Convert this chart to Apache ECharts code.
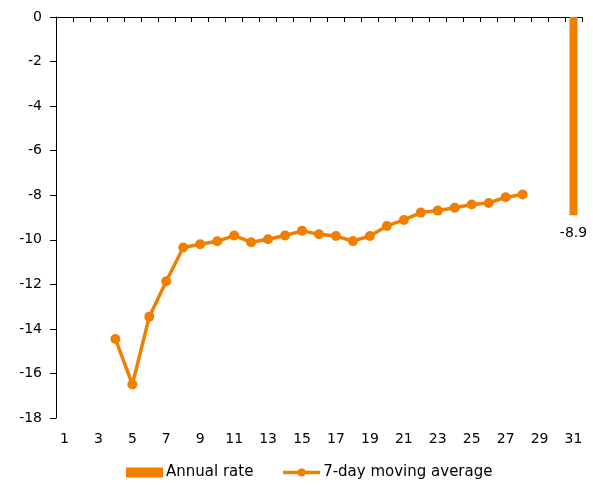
<!DOCTYPE html>
<html>
<head>
<meta charset="utf-8">
<script src="https://cdn.jsdelivr.net/npm/echarts@6/dist/echarts.min.js"></script>
<style>
  html, body { margin: 0; padding: 0; background: #fff; }
  #chart { width: 593px; height: 485px; }
</style>
</head>
<body>
<div id="chart"></div>
<script>
// Days of the month
const days = [];
for (let d = 1; d <= 31; d++) days.push(String(d));

// Annual rate: a single bar on the last day
const annualRate = [null, null, null, null, null, null, null, null, null, null,
  null, null, null, null, null, null, null, null, null, null,
  null, null, null, null, null, null, null, null, null, null, -8.9];

// 7-day moving average, days 4 to 28
const movingAverage = [null, null, null, -14.45, -16.49, -13.45, -11.86, -10.35, -10.2, -10.07,
  -9.81, -10.11, -9.98, -9.81, -9.6, -9.75, -9.83, -10.06, -9.83, -9.38,
  -9.11, -8.78, -8.69, -8.56, -8.42, -8.35, -8.09, -7.97, null, null, null];

const yTicks = { min: -18, max: 0, step: 2 };

const orange = '#F07F00';
const font = 'DejaVu Sans, Liberation Sans, sans-serif';

const chart = echarts.init(document.getElementById('chart'), null, { renderer: 'canvas' });
chart.setOption({
  animation: false,
  backgroundColor: '#ffffff',
  textStyle: { fontFamily: font },
  grid: { left: 56, right: 11, top: 17, bottom: 67, containLabel: false },
  legend: {
    left: 121,
    bottom: 0,
    itemWidth: 37,
    itemHeight: 10,
    itemGap: 28,
    textStyle: { fontFamily: font, fontSize: 15, color: '#000', padding: [0, 0, 0, -2] },
    data: [
      { name: 'Annual rate', icon: 'rect' },
      { name: '7-day moving average', lineStyle: { width: 3.5 } }
    ]
  },
  xAxis: [
    {
      type: 'category',
      data: days,
      position: 'bottom',
      boundaryGap: true,
      axisLine: { show: false },
      axisTick: { show: false },
      axisLabel: { interval: 1, margin: 14, fontSize: 14, color: '#000', fontFamily: font },
      splitLine: { show: false }
    },
    {
      type: 'category',
      data: days,
      position: 'top',
      boundaryGap: true,
      axisLine: { show: true, lineStyle: { color: '#000', width: 1 } },
      axisTick: { show: true, inside: true, length: 5, interval: 0, lineStyle: { color: '#000' } },
      axisLabel: { show: false },
      splitLine: { show: false }
    }
  ],
  yAxis: {
    type: 'value',
    min: yTicks.min,
    max: yTicks.max,
    interval: yTicks.step,
    axisLine: { show: true, lineStyle: { color: '#000', width: 1 } },
    axisTick: { show: true, length: 6, lineStyle: { color: '#000' } },
    axisLabel: { margin: 14, fontSize: 14, color: '#000', fontFamily: font },
    splitLine: { show: false }
  },
  series: [
    {
      name: 'Annual rate',
      type: 'bar',
      xAxisIndex: 0,
      data: annualRate,
      barWidth: 8,
      itemStyle: { color: orange },
      label: {
        show: true,
        position: 'bottom',
        distance: 11,
        color: '#000',
        fontSize: 14,
        fontFamily: font,
        formatter: p => p.value == null ? '' : String(p.value)
      }
    },
    {
      name: '7-day moving average',
      type: 'line',
      xAxisIndex: 0,
      data: movingAverage,
      connectNulls: false,
      symbol: 'circle',
      symbolSize: 10,
      lineStyle: { color: orange, width: 3.5 },
      itemStyle: { color: orange }
    }
  ]
});
</script>
</body>
</html>
